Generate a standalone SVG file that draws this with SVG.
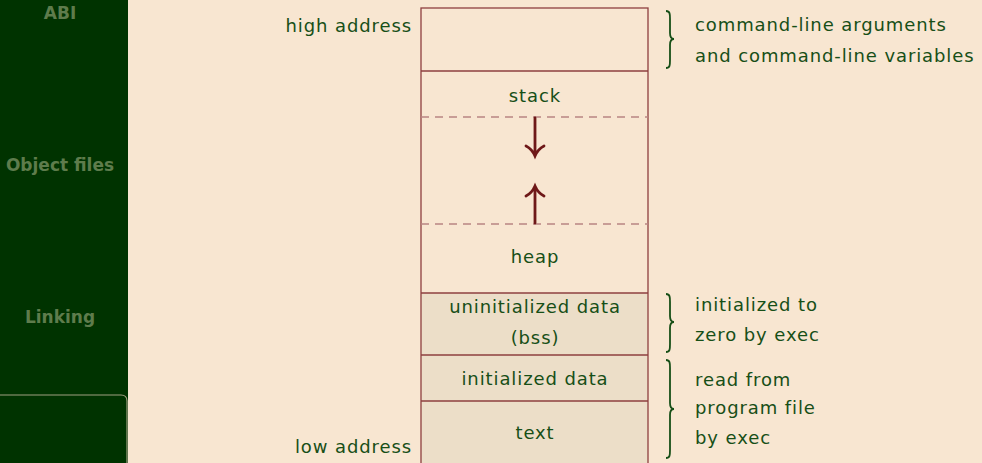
<svg xmlns="http://www.w3.org/2000/svg" width="982" height="463" viewBox="0 0 982 463">
<style>
.t{font-family:"DejaVu Sans","Liberation Sans",sans-serif;font-size:18px;letter-spacing:0.9px;fill:#174f17}
.c{text-anchor:middle}
.r{text-anchor:end}
.side{font-family:"DejaVu Sans","Liberation Sans",sans-serif;font-size:17px;font-weight:bold;fill:#5e7c4c;text-anchor:middle}
.box{fill:none;stroke:#8e3f3f;stroke-width:1.3}
.dash{stroke:#b88582;stroke-width:1.5;stroke-dasharray:8,6}
.arr{stroke:#6e1818;stroke-width:2.8;fill:none;stroke-linecap:round}
.brace{fill:none;stroke:#174f17;stroke-width:1.8}
</style>
<rect x="0" y="0" width="982" height="463" fill="#f8e6d1"/>
<g id="sidebar">
<rect x="0" y="0" width="128" height="463" fill="#003300"/>
<path d="M -2 395 L 121 395 Q 127 395 127 401 L 127 470" fill="none" stroke="#a0a080" stroke-width="1.2"/>
<text class="side" x="60" y="19">ABI</text>
<text class="side" x="60" y="171">Object files</text>
<text class="side" x="60" y="323">Linking</text>
</g>
<g id="memory">
<rect x="421" y="293" width="227" height="172" fill="#ecdec8"/>
<rect x="421" y="8" width="227" height="460" class="box"/>
<line x1="421" y1="71" x2="648" y2="71" class="box"/>
<line x1="421" y1="293" x2="648" y2="293" class="box"/>
<line x1="421" y1="355" x2="648" y2="355" class="box"/>
<line x1="421" y1="401" x2="648" y2="401" class="box"/>
<line x1="421" y1="117" x2="648" y2="117" class="dash"/>
<line x1="421" y1="224" x2="648" y2="224" class="dash"/>
</g>
<g id="stack"><text class="t c" x="535" y="102">stack</text></g>
<g id="heap"><text class="t c" x="535" y="263">heap</text></g>
<g id="bss"><text class="t c" x="535" y="313">uninitialized data</text><text class="t c" x="535" y="344">(bss)</text></g>
<g id="data"><text class="t c" x="535" y="385">initialized data</text></g>
<g id="text"><text class="t c" x="535" y="439">text</text></g>
<g id="connectors">
<path class="arr" d="M535 118 V155 M526 146 Q532 149 535 156 Q538 149 544 146"/>
<path class="arr" d="M535 223 V187 M526 196 Q532 193 535 186 Q538 193 544 196"/>
</g>
<g id="labels">
<text class="t r" x="412" y="32">high address</text>
<text class="t r" x="412" y="453">low address</text>
</g>
<g id="braces">
<path class="brace" d="M666 11 C670 11 670 14 670 19 L670 33 C670 37 672 39 674 39 C672 39 670 41 670 45 L670 60 C670 65 670 68 666 68"/>
<path class="brace" d="M666 294 C670 294 670 297 670 302 L670 316 C670 320 672 322 674 322 C672 322 670 324 670 328 L670 344 C670 349 670 352 666 352"/>
<path class="brace" d="M666 360 C670 360 670 363 670 368 L670 403 C670 407 672 409 674 409 C672 409 670 411 670 415 L670 450 C670 455 670 458 666 458"/>
<text class="t" x="695" y="31">command-line arguments</text>
<text class="t" x="695" y="62">and command-line variables</text>
<text class="t" x="695" y="311">initialized to</text>
<text class="t" x="695" y="341">zero by exec</text>
<text class="t" x="695" y="386">read from</text>
<text class="t" x="695" y="414">program file</text>
<text class="t" x="695" y="444">by exec</text>
</g>
</svg>
